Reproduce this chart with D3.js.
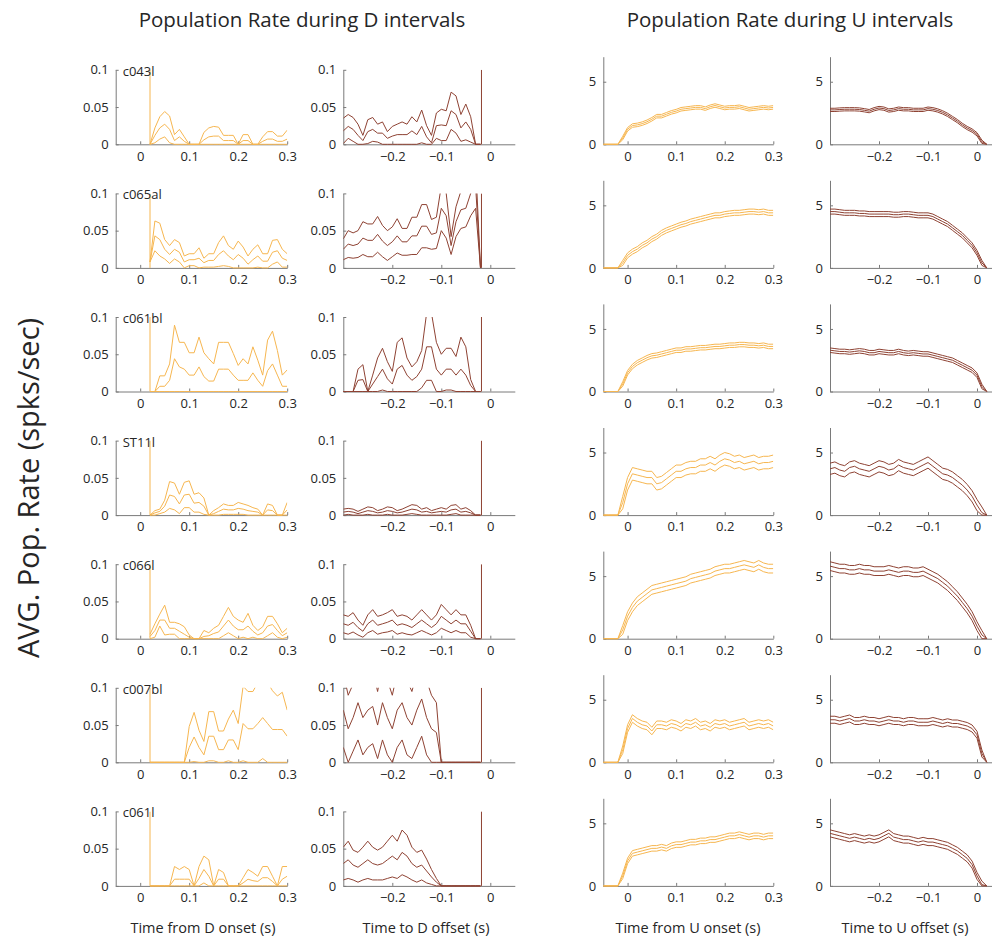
<!DOCTYPE html>
<html lang="en">
<head>
<meta charset="UTF-8">
<title>Population Rate | D3</title>
<style>
  body { margin: 0; background: #fff; }
  svg text { font-family: "Open Sans", "Noto Sans", sans-serif; fill: #262626; }
</style>
</head>
<body>
<div id="chart"></div>
<script src="https://d3js.org/d3.v7.min.js"></script>
<script>
// one row per recorded unit
var units = ["c043l", "c065al", "c061bl", "ST11l", "c066l", "c007bl", "c061l"];

// time bins (s), 10 ms steps
var tDOn = d3.range(2, 31).map(function(k) { return k / 100; });     // 0.02 .. 0.30
var tDOff = d3.range(-30, -1).map(function(k) { return k / 100; });  // -0.30 .. -0.02
var tUOn = d3.range(-5, 31).map(function(k) { return k / 100; });    // -0.05 .. 0.30
var tUOff = d3.range(-30, 3).map(function(k) { return k / 100; });   // -0.30 .. 0.02

// onset / offset artefact spikes in the D columns
var spikeDOn = 0.02;
var spikeDOff = -0.018;

// D onset: mean rate and s.e. per unit
var dOnMean = [
  [0,.012,.022,.027,.02,.005,.01,.004,0,0,0,.006,.01,.011,.011,.005,.005,.005,0,.005,.005,0,0,.004,.007,.007,.004,.004,.007],
  [.008,.043,.038,.025,.018,.025,.021,.008,.011,.011,.013,.007,.01,.01,.018,.023,.016,.011,.018,.013,.005,.011,.016,.009,.009,.021,.023,.013,.01],
  [0,0,.007,.007,.015,.044,.033,.03,.022,.022,.033,.02,.014,.014,.03,.03,.03,.022,.015,.015,.015,.025,.015,.007,.028,.037,.022,.007,.007],
  [0,.003,.005,.012,.027,.025,.015,.027,.028,.016,.017,.012,0,.002,.005,.008,.007,.007,.009,.008,.006,.005,.004,0,.007,.006,0,0,.007],
  [.003,.011,.025,.025,.014,.014,.01,.006,.002,0,0,.003,.004,.007,.009,.017,.025,.017,.012,.012,.017,.01,.005,.008,.017,.019,.011,.004,.008],
  [0,0,0,0,0,0,0,0,.02,.034,.02,.01,.035,.035,.017,.017,.03,.03,.017,.052,.045,.045,.052,.06,.052,.044,.044,.044,.035],
  [0,0,0,0,0,.009,.009,.009,.009,0,.01,.022,.013,0,.009,.009,0,0,0,.004,.009,.007,.006,.011,.011,.006,0,.009,.013]
];
var dOnSE = [
  [0,.01,.015,.017,.018,.008,.01,.006,0,0,0,.01,.012,.013,.012,.007,.007,.007,0,.008,.008,0,0,.006,.01,.01,.007,.007,.012],
  [0,.02,.022,.013,.012,.013,.013,.008,.008,.008,.014,.006,.009,.009,.016,.02,.014,.014,.018,.015,.011,.014,.015,.01,.01,.016,.015,.012,.009],
  [0,0,.014,.014,.022,.045,.033,.036,.03,.03,.04,.032,.03,.023,.036,.036,.036,.029,.02,.029,.022,.035,.027,.015,.041,.044,.033,.015,.022],
  [0,.003,.003,.008,.018,.018,.013,.017,.018,.012,.013,.011,0,.004,.005,.007,.006,.006,.008,.007,.007,.005,.004,0,.008,.007,0,0,.01],
  [.003,.009,.008,.02,.008,.008,.01,.01,.003,0,0,.008,.004,.007,.009,.013,.017,.013,.013,.01,.017,.008,.006,.008,.013,.011,.009,.004,.006],
  [0,0,0,0,0,0,0,0,.028,.033,.023,.018,.033,.033,.025,.025,.028,.04,.035,.05,.05,.05,.055,.055,.055,.052,.045,.05,.035],
  [0,0,0,0,0,.017,.013,.017,.013,0,.016,.018,.022,0,.013,.009,0,0,0,.007,.013,.011,.007,.015,.015,.007,0,.017,.013]
];

// D offset: mean rate and s.e. per unit
var dOffMean = [
  [.018,.024,.02,.012,.005,.017,.02,.015,.015,.008,.011,.013,.013,.013,.018,.013,.024,.01,.002,.025,.026,.025,.045,.04,.022,.03,.02,0,0],
  [.025,.032,.03,.032,.04,.037,.037,.045,.036,.03,.035,.043,.035,.035,.043,.043,.056,.056,.045,.047,.08,.07,.03,.062,.078,.08,.1,.11,0],
  [0,0,0,.015,.016,0,.01,.02,.03,.017,.01,.03,.035,.022,.015,.02,.03,.06,.06,.03,.022,.03,.03,.022,.03,.022,.008,0,0],
  [.004,.005,.004,.002,.004,.006,.005,.003,.004,.006,.005,.003,.004,.006,.008,.007,.004,.005,.003,.004,.005,.004,.007,.008,.004,.005,.003,0,0],
  [.02,.018,.022,.015,.01,.02,.025,.018,.02,.022,.025,.018,.02,.018,.015,.02,.025,.02,.015,.02,.03,.025,.02,.025,.02,.02,.01,0,0],
  [.07,.045,.06,.08,.06,.07,.075,.05,.08,.06,.045,.07,.08,.06,.05,.07,.085,.06,.045,.04,0,0,0,0,0,0,0,0,0],
  [.03,.035,.028,.025,.03,.035,.03,.028,.03,.035,.04,.035,.045,.04,.03,.025,.028,.02,.012,.005,0,0,0,0,0,0,0,0,0]
];
var dOffSE = [
  [.017,.016,.016,.015,.007,.016,.016,.012,.015,.009,.013,.014,.017,.014,.019,.017,.022,.015,.01,.017,.021,.02,.025,.025,.018,.024,.017,0,0],
  [.014,.018,.017,.018,.022,.022,.022,.024,.021,.02,.02,.023,.018,.018,.025,.025,.029,.029,.02,.021,.03,.03,.012,.02,.025,.025,.03,.03,0],
  [0,0,0,.015,.02,0,.012,.025,.028,.023,.017,.036,.037,.023,.018,.02,.025,.045,.045,.036,.028,.028,.028,.025,.043,.038,.008,0,0],
  [.004,.004,.004,.003,.004,.005,.005,.003,.004,.005,.005,.003,.004,.005,.006,.006,.004,.005,.003,.004,.005,.004,.006,.006,.004,.005,.003,0,0],
  [.012,.012,.013,.01,.008,.012,.014,.012,.012,.013,.014,.012,.012,.012,.01,.012,.014,.012,.01,.012,.016,.014,.012,.014,.012,.012,.008,0,0],
  [.05,.045,.045,.05,.05,.05,.05,.045,.05,.05,.045,.05,.05,.05,.045,.05,.05,.05,.045,.04,0,0,0,0,0,0,0,0,0],
  [.022,.025,.02,.02,.022,.025,.022,.02,.022,.025,.028,.025,.03,.028,.022,.02,.02,.016,.01,.005,0,0,0,0,0,0,0,0,0]
];

// U onset / offset: mean rate (spks/sec) per unit
var uOnMean = [
  [0,0,0,0,.5,1.2,1.5,1.55,1.65,1.8,2.0,2.25,2.25,2.4,2.55,2.65,2.8,2.85,2.9,2.95,2.95,2.85,3.0,3.1,3.0,2.9,2.95,2.95,3.0,2.9,2.8,2.85,2.9,2.95,2.9,2.95],
  [0,0,0,0,.4,1.0,1.3,1.5,1.8,2.0,2.3,2.5,2.8,3.0,3.15,3.3,3.45,3.55,3.7,3.8,3.9,4.0,4.1,4.2,4.2,4.3,4.35,4.4,4.4,4.45,4.5,4.5,4.45,4.5,4.4,4.4],
  [0,0,0,0,.6,1.5,2.0,2.3,2.5,2.7,2.85,2.9,3.0,3.1,3.2,3.3,3.3,3.4,3.4,3.45,3.5,3.5,3.55,3.6,3.6,3.65,3.7,3.7,3.75,3.75,3.7,3.7,3.65,3.7,3.6,3.6],
  [0,0,0,0,1.0,2.5,3.3,3.2,3.1,3.0,3.0,2.5,2.6,2.9,3.2,3.5,3.5,3.7,3.8,3.8,4.0,4.0,4.2,4.0,4.3,4.5,4.4,4.2,4.3,4.1,4.2,4.3,4.1,4.2,4.2,4.3],
  [0,0,0,0,.7,1.8,2.5,3.0,3.3,3.6,3.9,4.0,4.1,4.2,4.3,4.4,4.5,4.6,4.8,4.9,5.0,5.1,5.2,5.4,5.5,5.6,5.6,5.7,5.8,5.9,5.8,5.7,5.9,5.7,5.6,5.6],
  [0,0,0,0,1.0,2.7,3.5,3.2,3.0,2.9,2.5,3.0,3.0,2.9,3.1,3.0,2.8,3.1,3.0,3.2,2.9,3.0,2.8,3.1,3.0,3.1,2.9,3.0,3.1,3.2,2.9,3.0,3.1,3.0,3.1,2.9],
  [0,0,0,0,.8,2.0,2.6,2.7,2.8,2.9,3.0,3.0,3.1,3.0,3.2,3.3,3.3,3.4,3.5,3.5,3.6,3.6,3.7,3.7,3.8,3.9,4.0,4.0,4.1,4.0,3.9,4.0,4.0,3.9,4.0,4.0]
];
var uOffMean = [
  [2.75,2.75,2.78,2.8,2.8,2.8,2.78,2.72,2.65,2.8,2.9,2.85,2.7,2.75,2.85,2.8,2.8,2.75,2.75,2.75,2.85,2.8,2.7,2.55,2.35,2.1,1.85,1.55,1.3,1.1,.8,.2,0],
  [4.5,4.5,4.45,4.4,4.4,4.4,4.35,4.35,4.3,4.3,4.3,4.3,4.3,4.25,4.25,4.3,4.3,4.25,4.2,4.2,4.2,4.1,3.9,3.7,3.5,3.2,2.9,2.6,2.2,1.8,1.2,.4,0],
  [3.3,3.25,3.2,3.2,3.15,3.2,3.25,3.2,3.1,3.1,3.2,3.15,3.1,3.1,3.2,3.1,3.05,3.1,3.05,3.0,3.0,2.9,2.8,2.7,2.6,2.5,2.3,2.1,1.9,1.7,1.3,.4,0],
  [3.7,3.8,3.6,3.5,3.8,3.9,3.7,3.6,3.5,3.7,3.9,3.8,3.6,3.7,4.0,3.8,3.7,3.6,3.8,4.0,4.2,3.9,3.6,3.3,3.2,3.0,2.7,2.4,2.0,1.5,.8,.2,0],
  [5.8,5.7,5.6,5.6,5.5,5.5,5.6,5.5,5.5,5.4,5.4,5.4,5.5,5.4,5.3,5.4,5.4,5.3,5.3,5.4,5.2,5.0,4.8,4.5,4.2,3.8,3.4,2.9,2.4,1.8,1.0,.3,0],
  [3.4,3.4,3.3,3.4,3.5,3.3,3.3,3.4,3.3,3.3,3.2,3.3,3.4,3.3,3.3,3.2,3.3,3.3,3.2,3.2,3.2,3.3,3.2,3.1,3.2,3.1,3.1,3.0,2.9,2.7,2.2,.7,0],
  [4.2,4.1,4.0,3.9,3.8,3.9,3.8,3.7,3.8,3.7,3.8,4.0,4.2,3.9,3.8,3.7,3.7,3.6,3.5,3.6,3.5,3.5,3.4,3.3,3.2,3.0,2.8,2.5,2.2,1.7,.8,.1,0]
];
// U panels: s.e. band half-width per unit
var uOnSE = [0.14, 0.2, 0.18, 0.5, 0.35, 0.3, 0.22];
var uOffSE = [0.13, 0.2, 0.18, 0.45, 0.35, 0.28, 0.28];

var xTicksOn = [0, 0.1, 0.2, 0.3];
var xTicksOff = [-0.2, -0.1, 0];
var yTicksD = [0, 0.05, 0.1];
var yTicksU = [0, 5];

var orange = "#f6b650", brown = "#8e4233", axisGrey = "#7a7a7a";

var width = 992, height = 940;
var rowZero0 = 144.3, rowStep = 123.6;

var svg = d3.select("#chart").append("svg")
    .attr("width", width)
    .attr("height", height);

// column layout: left edge of y-axis, width, domains, styling
var columns = [
  { left: 115.7, w: 171.5, xDom: [-0.05, 0.3], yMax: 0.1, h: 74.5, t: tDOn, mean: dOnMean, se: dOnSE, color: orange, xt: xTicksOn, yt: yTicksD, spike: spikeDOn },
  { left: 343.3, w: 171.5, xDom: [-0.3, 0.05], yMax: 0.1, h: 74.5, t: tDOff, mean: dOffMean, se: dOffSE, color: brown, xt: xTicksOff, yt: yTicksD, spike: spikeDOff },
  { left: 603.3, w: 170, xDom: [-0.05, 0.3], yMax: 7, h: 87.6, t: tUOn, mean: uOnMean, seU: uOnSE, color: orange, xt: xTicksOn, yt: yTicksU },
  { left: 830, w: 171.5, xDom: [-0.3, 0.05], yMax: 7, h: 87.6, t: tUOff, mean: uOffMean, seU: uOffSE, color: brown, xt: xTicksOff, yt: yTicksU }
];

function fmt(d) {
  return d === 0 ? "0" : String(d).replace("-", "\u2212");
}

var defs = svg.append("defs");

columns.forEach(function(col, ci) {
  units.forEach(function(unit, ri) {
    var zero = rowZero0 + ri * rowStep;
    var x = d3.scaleLinear().domain(col.xDom).range([0, col.w]);
    var y = d3.scaleLinear().domain([0, col.yMax]).range([col.h, 0]);

    var g = svg.append("g")
        .attr("transform", "translate(" + col.left + "," + (zero - col.h) + ")");

    var clipId = "clip-" + ci + "-" + ri;
    defs.append("clipPath").attr("id", clipId)
      .append("rect")
        .attr("x", 0).attr("y", 0)
        .attr("width", col.w).attr("height", col.h + 1);

    // axes (ticks point inward, like the original)
    var xAxis = d3.axisBottom(x).tickValues(col.xt).tickFormat(fmt)
        .tickSizeInner(-3).tickSizeOuter(0).tickPadding(7);
    var yAxis = d3.axisLeft(y).tickValues(col.yt).tickFormat(fmt)
        .tickSizeInner(-3).tickSizeOuter(0).tickPadding(7);

    var xg = g.append("g").attr("transform", "translate(0," + col.h + ")").call(xAxis);
    var yg = g.append("g").call(yAxis);
    [xg, yg].forEach(function(a) {
      a.select(".domain").attr("stroke", axisGrey);
      a.selectAll(".tick line").attr("stroke", axisGrey);
      a.selectAll("text").attr("fill", "#262626")
        .style("font-family", "'Open Sans', sans-serif")
        .style("font-size", "13px");
    });

    // mean and mean +/- s.e.
    var m = col.mean[ri];
    var s = col.se ? col.se[ri] : null;
    var upper = [], mid = [], lower = [];
    col.t.forEach(function(t, k) {
      var e = s ? s[k] : (m[k] > 0 ? col.seU[ri] : 0);
      mid.push([t, m[k]]);
      upper.push([t, m[k] + e]);
      lower.push([t, Math.max(0, m[k] - e)]);
    });

    var line = d3.line()
        .x(function(d) { return x(d[0]); })
        .y(function(d) { return y(d[1]); });

    var lg = g.append("g").attr("clip-path", "url(#" + clipId + ")");
    [lower, mid, upper].forEach(function(series) {
      lg.append("path")
        .datum(series)
        .attr("fill", "none")
        .attr("stroke", col.color)
        .attr("stroke-width", 1)
        .attr("stroke-linejoin", "round")
        .attr("d", line);
    });

    if (col.spike !== undefined) {
      lg.append("path")
        .datum([[col.spike, 0], [col.spike, col.yMax]])
        .attr("fill", "none")
        .attr("stroke", col.color)
        .attr("stroke-width", 1)
        .attr("d", line);
    }

    if (ci === 0) {
      g.append("text")
        .attr("x", 7)
        .attr("y", 6)
        .style("font-size", "13px")
        .text(unit);
    }
  });
});

// titles
svg.append("text")
    .attr("x", 302).attr("y", 27)
    .attr("text-anchor", "middle")
    .style("font-size", "20.5px")
    .text("Population Rate during D intervals");
svg.append("text")
    .attr("x", 790).attr("y", 27)
    .attr("text-anchor", "middle")
    .style("font-size", "20.5px")
    .text("Population Rate during U intervals");

// y label
svg.append("text")
    .attr("transform", "translate(39,488) rotate(-90)")
    .attr("text-anchor", "middle")
    .style("font-size", "29px")
    .text("AVG. Pop. Rate (spks/sec)");

// x labels
var xLabels = [
  ["Time from D onset (s)", 203],
  ["Time to D offset (s)", 426],
  ["Time from U onset (s)", 688],
  ["Time to U offset (s)", 905]
];
xLabels.forEach(function(l) {
  svg.append("text")
      .attr("x", l[1]).attr("y", 933)
      .attr("text-anchor", "middle")
      .style("font-size", "14.5px")
      .text(l[0]);
});
</script>
</body>
</html>
